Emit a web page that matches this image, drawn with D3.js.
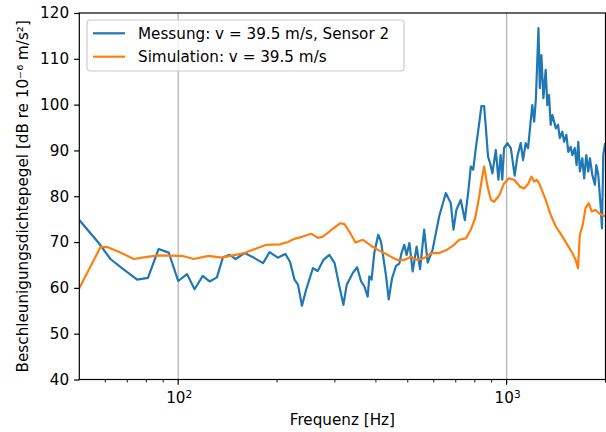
<!DOCTYPE html>
<html>
<head>
<meta charset="utf-8">
<script src="https://cdn.jsdelivr.net/npm/d3@7"></script>
<style>
  body { margin: 0; background: #fff; }
  text { font-family: "DejaVu Sans", sans-serif; fill: #000; }
</style>
</head>
<body>
<svg id="chart" width="606" height="432"></svg>
<script>
// Messung, Sensor 2 (Hz / dB)
const messFreq = [50, 57.3, 62.2, 67.4, 75, 80.9, 87.2, 93.6, 100, 106.4, 112.2, 118.7, 124.6, 131.2,
  136.9, 143.5, 149.6, 159.3, 170.8, 181.3, 189.8, 201, 212, 219, 226, 231.6, 238.2, 245.2, 257.2,
  266, 276.8, 288.6, 299.4, 309.7, 318.5, 326, 339.9, 350.6, 360.6, 369, 377.6, 382, 388, 395.4,
  406.5, 414.6, 429.6, 437.5, 447.9, 460.6, 471.3, 478.6, 487.8, 496, 505.8, 517.6, 532, 545, 561,
  575, 595, 623.6, 653, 676, 689, 703, 725, 746, 765, 778, 791, 806, 825, 838, 854, 864, 878, 891,
  905, 927, 944, 959, 970, 982, 1005, 1030, 1058, 1079, 1104, 1122, 1143, 1162, 1178, 1197, 1213,
  1228, 1250, 1262, 1276, 1294, 1315, 1330, 1346, 1362, 1378, 1395, 1412, 1434, 1452, 1478, 1496,
  1520, 1541, 1567, 1585, 1612, 1633, 1653, 1671, 1700, 1722, 1748, 1773, 1793, 1823, 1857, 1875,
  1901, 1935, 1951, 1969, 1995];
const messLevel = [74.8, 69.8, 66.3, 64.3, 61.8, 62.2, 68.5, 67.7, 61.5, 63.0, 59.7, 62.6, 61.4, 62.3,
  66.7, 67.2, 66.3, 67.6, 66.5, 65.4, 67.8, 66.6, 67.4, 65.7, 61.8, 60.7, 56.1, 59.6, 64.3,
  63.7, 66.1, 67.2, 65.4, 60.3, 56.3, 60.7, 63.2, 64.5, 61.4, 60.3, 58.1, 62.5, 61.8, 67.6,
  71.6, 70.1, 62.5, 57.5, 62.1, 64.8, 65.3, 67.6, 69.4, 67.2, 69.8, 63.6, 69.0, 64.1, 72.7,
  65.5, 68.3, 75.7, 80.7, 78.5, 72.7, 77.0, 79.2, 74.8, 81.3, 86.5, 85.8, 90.5, 95.9, 99.7, 99.7, 95.2, 88.6, 87.2,
  85.0, 90.1, 83.6, 89.0, 83.6, 90.5, 91.6, 90.5, 84.5, 88.8, 91.6, 87.9, 91.6, 90.5, 94.8, 99.9, 96.3,
  101.4, 116.7, 103.6, 110.8, 101.4, 107.6, 99.9, 102.1, 95.6, 97.7, 96.3, 94.8, 95.6, 92.7, 94.1, 91.9,
  93.4, 89.7, 90.8, 89.0, 90.5, 86.8, 91.9, 85.4, 88.3, 83.9, 89.0, 85.4, 88.3, 84.7, 82.5, 86.8,
  84.7, 77.4, 73.0, 89.0, 91.6];

// Simulation (Hz / dB)
const simFreq = [50, 58.0, 60.8, 65.9, 73.3, 79.5, 87.2, 100, 102.7, 111.4, 123.8, 135.3, 146.8, 159.3,
  168.6, 185.4, 203.6, 215.9, 226, 239.5, 254, 260, 266, 275.5, 288.6, 299.4, 311, 320.8, 332,
  346.5, 365, 386.6, 404.8, 429.6, 449.8, 465.8, 488, 511.6, 535, 561, 581, 588, 623.5, 661, 692,
  717, 752, 778, 802, 825, 840, 854, 875, 896, 916, 948, 982, 1016, 1054, 1087, 1097, 1130, 1165,
  1190, 1212, 1233, 1256, 1285, 1315, 1362, 1412, 1479, 1531, 1585, 1623, 1649, 1671, 1706, 1738,
  1778, 1815, 1866, 1910, 1955, 1995];
const simLevel = [59.9, 68.9, 68.9, 67.9, 66.3, 66.7, 67.1, 67.0, 67.0, 66.3, 67.0, 66.6, 67.1, 67.6,
  68.3, 69.4, 69.5, 70.0, 70.7, 71.2, 71.8, 71.4, 70.9, 71.2, 72.3, 73.2, 74.1, 73.9, 72.3,
  69.9, 70.5, 69.2, 68.3, 67.4, 66.6, 66.1, 66.1, 66.8, 66.1, 66.5, 67.2, 67.6, 67.6, 68.4, 69.4,
  70.5, 70.8, 72.7, 75.2, 79.9, 83.6, 86.5, 82.1, 79.2, 78.8, 80.1, 82.8, 83.9, 83.6, 82.5, 82.1, 81.7, 82.8,
  84.3, 83.2, 83.6, 82.8, 81.0, 79.2, 75.9, 73.4, 71.2, 69.4, 67.6, 66.1, 64.3, 71.6, 73.8, 77.4,
  78.5, 76.7, 77.0, 76.3, 75.9, 75.6];

const yTicks = [40, 50, 60, 70, 80, 90, 100, 110, 120];
const xMajor = [100, 1000];
const xMinor = [60, 70, 80, 90, 200, 300, 400, 500, 600, 700, 800, 900, 2000];

const seriesNames = ['Messung: v = 39.5 m/s, Sensor 2', 'Simulation: v = 39.5 m/s'];
const seriesColors = ['#1f77b4', '#ff7f0e'];

const fontSize = 15.2;
const margin = { top: 13, right: 0.5, bottom: 52.5, left: 79.3 };
const width = 606;
const height = 432;
const innerWidth = width - margin.left - margin.right;
const innerHeight = height - margin.top - margin.bottom;

const svg = d3.select('svg#chart');

const xScale = d3.scaleLog()
  .domain([50, 2000])
  .range([0, innerWidth]);

const yScale = d3.scaleLinear()
  .domain([40, 120])
  .range([innerHeight, 0]);

const g = svg.append('g')
  .attr('transform', `translate(${margin.left},${margin.top})`);

g.append('clipPath')
    .attr('id', 'plot-clip')
  .append('rect')
    .attr('width', innerWidth)
    .attr('height', innerHeight);

// grid (major x only)
g.selectAll('.grid').data(xMajor)
  .enter().append('line')
    .attr('class', 'grid')
    .attr('x1', d => xScale(d))
    .attr('x2', d => xScale(d))
    .attr('y1', 0)
    .attr('y2', innerHeight)
    .attr('stroke', '#b0b0b0')
    .attr('stroke-width', 1.2);

// lines
const lineGen = d3.line()
  .x(d => xScale(d[0]))
  .y(d => yScale(d[1]));

const series = [
  d3.zip(messFreq, messLevel),
  d3.zip(simFreq, simLevel)
];

g.append('g')
    .attr('clip-path', 'url(#plot-clip)')
  .selectAll('path').data(series)
  .enter().append('path')
    .attr('d', lineGen)
    .attr('fill', 'none')
    .attr('stroke', (d, i) => seriesColors[i])
    .attr('stroke-width', 2.2)
    .attr('stroke-linejoin', 'round');

// y axis
const yAxis = d3.axisLeft(yScale)
  .tickValues(yTicks)
  .tickSize(5.2)
  .tickPadding(5);

const yAxisG = g.append('g').call(yAxis);
yAxisG.select('.domain').remove();
yAxisG.selectAll('line').attr('stroke', '#000').attr('stroke-width', 1.2);
yAxisG.selectAll('text')
  .attr('font-size', fontSize)
  .attr('font-family', 'DejaVu Sans')
  .attr('fill', '#000');

// x axis: major + minor ticks
const xAxisG = g.append('g')
  .attr('transform', `translate(0,${innerHeight})`);

xAxisG.selectAll('.minor').data(xMinor)
  .enter().append('line')
    .attr('x1', d => xScale(d))
    .attr('x2', d => xScale(d))
    .attr('y1', 0)
    .attr('y2', 3)
    .attr('stroke', '#000')
    .attr('stroke-width', 0.9);

xAxisG.selectAll('.major').data(xMajor)
  .enter().append('line')
    .attr('x1', d => xScale(d))
    .attr('x2', d => xScale(d))
    .attr('y1', 0)
    .attr('y2', 5.2)
    .attr('stroke', '#000')
    .attr('stroke-width', 1.2);

const xLabels = xAxisG.selectAll('.xlab').data(xMajor)
  .enter().append('text')
    .attr('x', d => xScale(d) + 1)
    .attr('y', 23.8)
    .attr('text-anchor', 'middle')
    .attr('font-size', fontSize);
xLabels.append('tspan').text('10');
xLabels.append('tspan')
  .attr('dy', -5.8)
  .attr('font-size', 10.6)
  .text(d => Math.round(Math.log10(d)));

// spines
g.append('rect')
  .attr('width', innerWidth)
  .attr('height', innerHeight)
  .attr('fill', 'none')
  .attr('stroke', '#000')
  .attr('stroke-width', 1.2);

// axis labels
svg.append('text')
  .attr('x', margin.left + innerWidth / 2)
  .attr('y', 425)
  .attr('text-anchor', 'middle')
  .attr('font-size', fontSize)
  .text('Frequenz [Hz]');

svg.append('text')
  .attr('transform', `translate(28.4,${margin.top + innerHeight / 2}) rotate(-90)`)
  .attr('text-anchor', 'middle')
  .attr('font-size', fontSize)
  .text('Beschleunigungsdichtepegel [dB re 10\u207B\u2076 m/s\u00B2]');

// legend
const legend = svg.append('g')
  .attr('transform', 'translate(87,20)');

legend.append('rect')
  .attr('width', 317)
  .attr('height', 51)
  .attr('rx', 3)
  .attr('fill', '#fff')
  .attr('fill-opacity', 0.8)
  .attr('stroke', '#cccccc')
  .attr('stroke-width', 1.2);

const legendRow = legend.selectAll('.row').data(seriesNames)
  .enter().append('g')
    .attr('transform', (d, i) => `translate(0,${13.3 + i * 23.4})`);

legendRow.append('line')
  .attr('x1', 6)
  .attr('x2', 38)
  .attr('stroke', (d, i) => seriesColors[i])
  .attr('stroke-width', 2.2);

legendRow.append('text')
  .attr('x', 51)
  .attr('y', 5.5)
  .attr('font-size', fontSize)
  .text(d => d);
</script>
</body>
</html>
